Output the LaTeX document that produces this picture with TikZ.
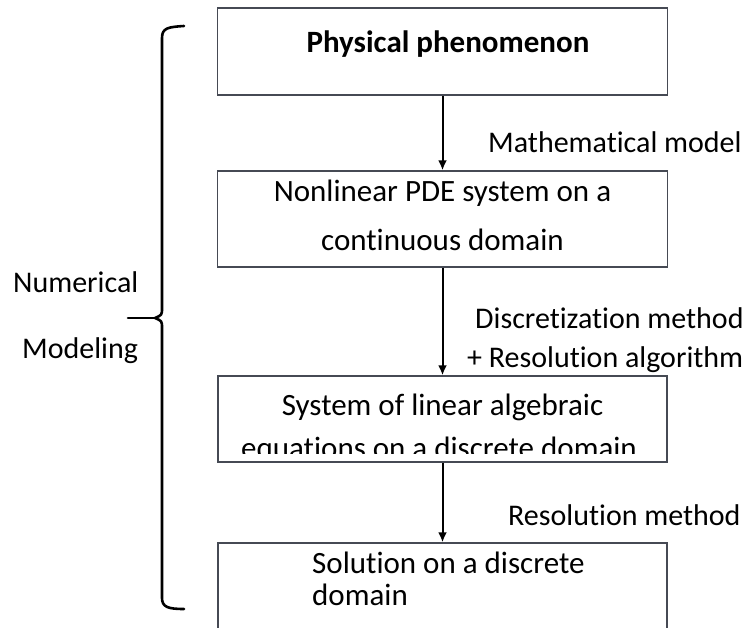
\documentclass[tikz,border=0pt]{standalone}
\usepackage{fontspec}
\setmainfont{Carlito}[Ligatures=NoCommon]
\usetikzlibrary{arrows.meta}
\definecolor{edgegray}{RGB}{70,74,84}
\tikzset{
  boxnode/.style={draw=edgegray, line width=1.4pt, rectangle, inner sep=0pt},
  boxtext/.style={anchor=base, inner sep=0pt, font=\fontsize{31}{36}\selectfont},
  boxtextl/.style={anchor=base west, inner sep=0pt, font=\fontsize{31}{36}\selectfont},
  lbl/.style={anchor=base west, inner sep=0pt, font=\fontsize{30}{34}\selectfont},
  flow/.style={line width=2pt, -{Latex[length=10pt,width=9pt]}},
  bracepath/.style={line width=2.6pt, line cap=round, line join=round}
}
\begin{document}
\begin{tikzpicture}[x=1pt,y=-1pt]
\useasboundingbox (0,0) rectangle (752,628);
% boxes
\node[boxnode, minimum width=450pt, minimum height=87pt] (b1) at (442.5,51.5) {};
\node[boxnode, minimum width=450pt, minimum height=96pt] (b2) at (442.5,219) {};
\node[boxnode, minimum width=449pt, minimum height=86pt] (b3) at (442.5,419) {};
\node[boxnode, minimum width=449pt, minimum height=100pt] (b4) at (442.5,593) {};
% box texts
\node[boxtext, font=\fontsize{31}{36}\selectfont\bfseries] (t1) at (448,53) {Physical phenomenon};
\node[boxtext] (t2a) at (442.5,202) {Nonlinear PDE system on a};
\node[boxtext] (t2b) at (442.5,251) {continuous domain};
\node[boxtext] (t3a) at (442.5,415) {System of linear algebraic};
\begin{scope}
  \clip (219,420) rectangle (666,453.5);
  \node[boxtext] (t3b) at (439,458) {equations on a discrete domain};
\end{scope}
\node[boxtextl] (t4a) at (312,573) {Solution on a discrete};
\node[boxtextl] (t4b) at (312,605) {domain};
% connectors
\draw[flow] (b1.south) -- (b2.north);
\draw[flow] (b2.south) -- (b3.north);
\draw[flow] (b3.south) -- (b4.north);
% labels
\node[lbl] (l1) at (488,153) {Mathematical model};
\node[lbl] (l2) at (475,328) {Discretization method};
\node[lbl] (l3) at (467,367) {+ Resolution algorithm};
\node[lbl] (l4) at (508,525) {Resolution method};
\node[lbl] (n1) at (13,292) {Numerical};
\node[lbl] (n2) at (22,358) {Modeling};
% brace
\draw[bracepath] (184,26) .. controls (168,27) and (162,28) .. (162,38) -- (162,308)
  .. controls (162,315) .. (155,318) .. controls (162,321) .. (162,328) -- (162,598)
  .. controls (162,607) and (168,609) .. (184,609);
\draw[bracepath] (128,318) -- (155,318);
\end{tikzpicture}
\end{document}
